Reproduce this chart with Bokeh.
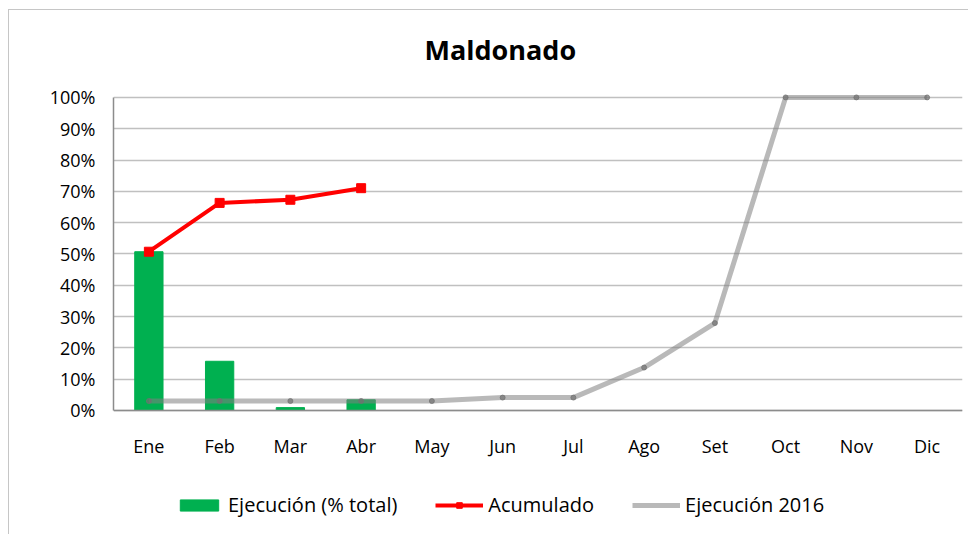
from bokeh.plotting import figure
from bokeh.models import FactorRange, Range1d, Legend, LegendItem, PrintfTickFormatter, FixedTicker
from bokeh.embed import file_html
from bokeh.resources import INLINE

months = ["Ene", "Feb", "Mar", "Abr", "May", "Jun", "Jul", "Ago", "Set", "Oct", "Nov", "Dic"]
ejec_months = ["Ene", "Feb", "Mar", "Abr"]
ejecucion = [50.7, 15.7, 0.9, 3.4]
acumulado = [50.7, 66.3, 67.3, 71.0]
ejec2016 = [3.0, 3.0, 3.0, 3.0, 3.0, 4.1, 4.1, 13.7, 27.9, 100.0, 100.0, 100.0]
y_ticks = [0, 10, 20, 30, 40, 50, 60, 70, 80, 90, 100]

FONT = "Open Sans"

p = figure(x_range=FactorRange(*months), y_range=Range1d(-39.96, 107.0),
           width=960, height=525, output_backend="svg", toolbar_location=None,
           title="Maldonado")
p.styles = {"margin-left": "8px", "margin-top": "9px",
            "border-top": "1px solid #c6c6c6", "border-left": "1px solid #c6c6c6"}
p.min_border_left = 104
p.min_border_right = 7
p.min_border_top = 65
p.min_border_bottom = 0
p.outline_line_color = None
p.background_fill_color = "white"
p.border_fill_color = "white"

p.title.align = "left"
p.title.offset = 311
p.title.text_font = FONT
p.title.text_font_style = "bold"
p.title.text_font_size = "27px"
p.title.text_color = "black"
p.title.standoff = 15

bars = p.vbar(x=ejec_months, top=ejecucion, width=0.4, color="#00b050")
red = p.line(x=ejec_months, y=acumulado, line_color="#ff0000", line_width=4)
red_m = p.scatter(x=ejec_months, y=acumulado, marker="square", size=9, color="#ff0000")
gray = p.line(x=months, y=ejec2016, line_color="#808080", line_alpha=0.55, line_width=5)
gray_m = p.scatter(x=months, y=ejec2016, size=5, color="#707070", alpha=0.7)

p.yaxis.ticker = FixedTicker(ticks=y_ticks)
p.yaxis.formatter = PrintfTickFormatter(format="%d%%")
p.yaxis.bounds = (0, 100)
p.xaxis.fixed_location = 0
p.ygrid.ticker = FixedTicker(ticks=y_ticks)
p.ygrid.grid_line_color = "#c0c0c0"
p.ygrid.grid_line_width = 1.5
p.xgrid.grid_line_color = None

for ax in (p.xaxis[0], p.yaxis[0]):
    ax.axis_line_color = "#8c8c8c"
    ax.axis_line_width = 1.5
    ax.major_tick_line_color = None
    ax.minor_tick_line_color = None
    ax.major_tick_out = 0
    ax.major_tick_in = 0
    ax.minor_tick_out = 0
    ax.major_label_text_font = FONT
    ax.major_label_text_font_size = "18px"
    ax.major_label_text_color = "black"
p.yaxis.major_label_standoff = 18
p.xaxis.major_label_standoff = 24

legend = Legend(items=[
    LegendItem(label="Ejecución (% total)", renderers=[bars]),
    LegendItem(label="Acumulado", renderers=[red, red_m]),
    LegendItem(label="Ejecución 2016", renderers=[gray]),
], orientation="horizontal", location=(62, 17))
legend.label_text_font = FONT
legend.label_text_font_size = "20px"
legend.label_text_color = "black"
legend.glyph_width = 48
legend.glyph_height = 14
legend.label_standoff = 5
legend.spacing = 38
legend.border_line_color = None
legend.background_fill_alpha = 0
legend.padding = 4
legend.margin = 0
p.add_layout(legend)

open("out.html", "w").write(file_html(p, INLINE))
